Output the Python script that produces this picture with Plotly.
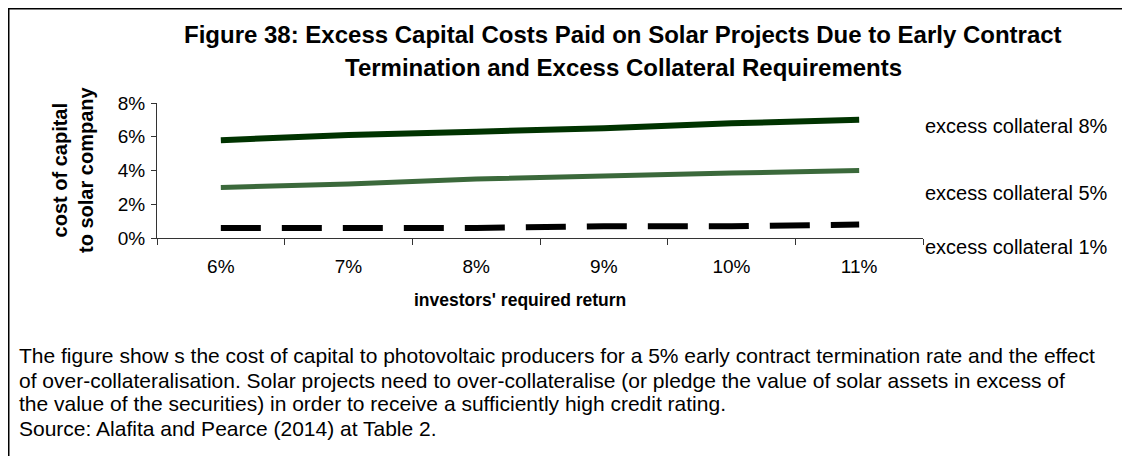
import plotly.graph_objects as go

# ---- data ----
categories = ["6%", "7%", "8%", "9%", "10%", "11%"]
collateral_8 = [0.058, 0.061, 0.063, 0.065, 0.068, 0.070]
collateral_5 = [0.030, 0.032, 0.035, 0.037, 0.0385, 0.040]
collateral_1 = [0.006, 0.006, 0.006, 0.007, 0.007, 0.008]
series_names = ["excess collateral 8%", "excess collateral 5%", "excess collateral 1%"]

title_lines = [
    "Figure 38: Excess Capital Costs Paid on Solar Projects Due to Early Contract",
    "Termination and Excess Collateral Requirements",
]
caption_lines = [
    "The figure show s the cost of capital to photovoltaic producers for a 5% early contract termination rate and the effect",
    "of over-collateralisation. Solar projects need to over-collateralise (or pledge the value of solar assets in excess of",
    "the value of the securities) in order to receive a sufficiently high credit rating.",
    "Source: Alafita and Pearce (2014) at Table 2.",
]

OFF = 8  # page body margin
W, H = 1130 - OFF, 456 - OFF
# plot area in window pixels
L, R, T, B = 157, 923, 103, 238

def px(x):
    return (x - L) / (R - L)

def py(y):
    return (B - y) / (B - T)

FONT = "Liberation Sans, Arial, sans-serif"

fig = go.Figure()
fig.add_trace(go.Scatter(x=categories, y=collateral_8, mode="lines", name=series_names[0],
                         line=dict(color="#003300", width=6)))
fig.add_trace(go.Scatter(x=categories, y=collateral_5, mode="lines", name=series_names[1],
                         line=dict(color="#3b693b", width=5)))
fig.add_trace(go.Scatter(x=categories, y=collateral_1, mode="lines", name=series_names[2],
                         line=dict(color="#000000", width=6, dash="40px,21px")))

annotations = []
# title
for t, yy in zip(title_lines, [34, 67]):
    annotations.append(dict(text=f"<b>{t}</b>", x=px(623), y=py(yy), xref="paper", yref="paper",
                            xanchor="center", yanchor="middle", showarrow=False,
                            font=dict(size=24, color="black", family=FONT)))
# series labels on right
for name, yy in zip(series_names, [126, 193, 247]):
    annotations.append(dict(text=name, x=px(923), y=py(yy), xref="paper", yref="paper",
                            xanchor="left", yanchor="middle", showarrow=False,
                            font=dict(size=20, color="black", family=FONT)))
# axis titles
annotations.append(dict(text="<b>cost of capital<br>to solar company</b>", x=px(73), y=py(170),
                        xref="paper", yref="paper", xanchor="center", yanchor="middle",
                        textangle=-90, showarrow=False,
                        font=dict(size=20, color="black", family=FONT)))
annotations.append(dict(text="<b>investors' required return</b>", x=px(520), y=py(300),
                        xref="paper", yref="paper", xanchor="center", yanchor="middle",
                        showarrow=False, font=dict(size=17.5, color="black", family=FONT)))
# caption
for t, yy in zip(caption_lines, [355, 380, 404, 428]):
    annotations.append(dict(text=t, x=px(17), y=py(yy), xref="paper", yref="paper",
                            xanchor="left", yanchor="middle", showarrow=False,
                            font=dict(size=21, color="black", family=FONT)))

shapes = [
    dict(type="line", xref="paper", yref="paper", x0=px(OFF), x1=px(1130), y0=py(OFF + 0.5), y1=py(OFF + 0.5),
         line=dict(color="black", width=2)),
    dict(type="line", xref="paper", yref="paper", x0=px(OFF + 0.5), x1=px(OFF + 0.5), y0=py(OFF), y1=py(456),
         line=dict(color="black", width=2)),
]

fig.update_layout(
    width=W, height=H,
    margin=dict(l=L - OFF, r=(W + OFF) - R, t=T - OFF, b=(H + OFF) - B, pad=0),
    paper_bgcolor="white", plot_bgcolor="white",
    showlegend=False,
    font=dict(family=FONT, size=19, color="black"),
    annotations=annotations, shapes=shapes,
    xaxis=dict(type="category", range=[-0.5, 5.5], showline=True, linecolor="#333333", linewidth=1,
               ticks="outside", tickson="boundaries", ticklen=6, tickcolor="#333333",
               showgrid=False, zeroline=False, tickfont=dict(size=19), ticklabelstandoff=11),
    yaxis=dict(range=[0, 0.08], dtick=0.02, tickformat=".0%", showline=True, linecolor="#333333",
               linewidth=1, ticks="outside", ticklen=5, tickcolor="#333333", showgrid=False,
               zeroline=False, tickfont=dict(size=19), ticklabelstandoff=2),
)

fig.write_html("out.html")
